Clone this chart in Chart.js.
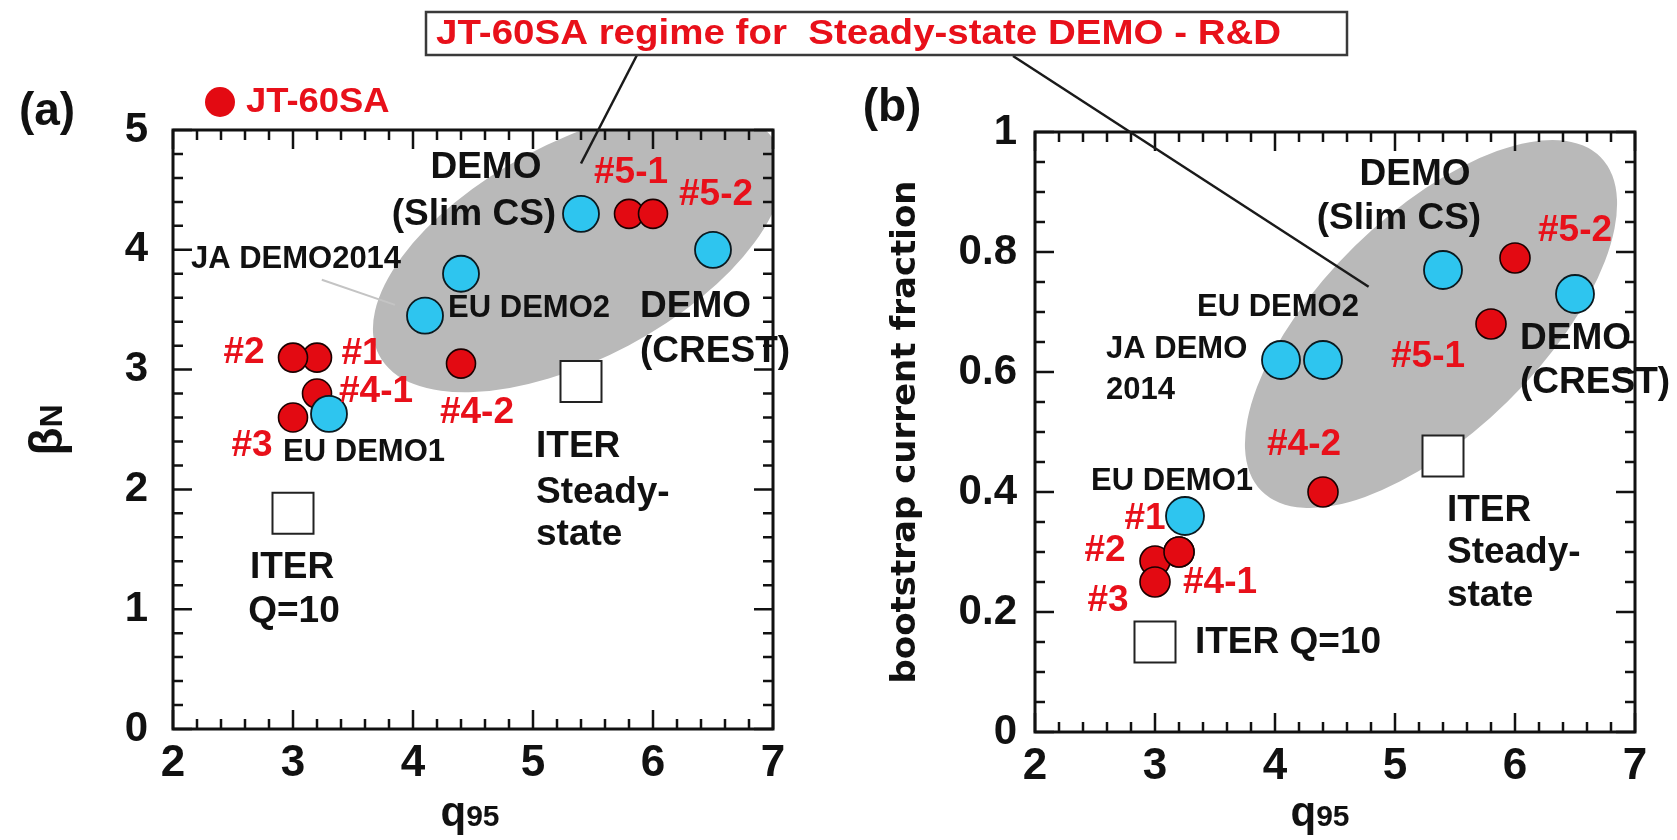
<!DOCTYPE html>
<html><head><meta charset="utf-8">
<script src="https://cdn.jsdelivr.net/npm/chart.js@4.4.1/dist/chart.umd.min.js"></script>
<style>
html,body{margin:0;padding:0;background:#fff;}
#wrap{position:relative;width:1677px;height:840px;background:#fff;}
canvas{position:absolute;left:0;top:0;}
</style></head><body>
<div id="wrap"><canvas id="ca" width="1677" height="840"></canvas><canvas id="cb" width="1677" height="840"></canvas></div>
<script>
// ---------------- data ----------------
const xTickValues = [2, 3, 4, 5, 6, 7];
const yTickValuesA = [0, 1, 2, 3, 4, 5];
const yTickValuesB = [0, 0.2, 0.4, 0.6, 0.8, 1];

// JT-60SA scenarios
const jtNames  = ['#1', '#2', '#3', '#4-1', '#4-2', '#5-1', '#5-2'];
const jtQ95A   = [3.2, 3.0, 3.0, 3.2, 4.4, 5.8, 6.0];
const jtBetaN  = [3.1, 3.1, 2.6, 2.8, 3.05, 4.3, 4.3];
const jtQ95B   = [3.2, 3.0, 3.0, 3.2, 4.4, 5.8, 6.0];
const jtFbs    = [0.30, 0.285, 0.25, 0.30, 0.40, 0.68, 0.79];

// DEMO designs
const demoNames = ['EU DEMO1', 'EU DEMO2', 'JA DEMO2014', 'DEMO (Slim CS)', 'DEMO (CREST)'];
const demoQ95A  = [3.3, 4.4, 4.1, 5.4, 6.5];
const demoBetaN = [2.63, 3.8, 3.45, 4.3, 4.0];
const demoQ95B  = [3.25, 4.4, 4.05, 5.4, 6.5];
const demoFbs   = [0.36, 0.62, 0.62, 0.77, 0.73];

// ITER scenarios
const iterNames = ['ITER Q=10', 'ITER Steady-state'];
const iterQ95   = [3.0, 5.4];
const iterBetaN = [1.8, 2.9];
const iterFbs   = [0.15, 0.46];

// ---------------- annotations (data coordinates) ----------------
const annA = [
  ['DEMO', 4.608, 4.683, 'big'],
  ['(Slim CS)', 4.508, 4.29, 'big'],
  ['#5-1', 5.817, 4.641, 'red'],
  ['#5-2', 6.525, 4.457, 'red'],
  ['JA DEMO2014', 3.025, 3.923, 'small'],
  ['EU DEMO2', 4.967, 3.514, 'small'],
  ['DEMO', 5.892, 3.523, 'big', 'left'],
  ['(CREST)', 5.892, 3.147, 'big', 'left'],
  ['#2', 2.592, 3.139, 'red'],
  ['#1', 3.575, 3.13, 'red'],
  ['#4-1', 3.692, 2.813, 'red'],
  ['#4-2', 4.533, 2.638, 'red'],
  ['#3', 2.658, 2.362, 'red'],
  ['EU DEMO1', 3.592, 2.312, 'small'],
  ['ITER', 5.025, 2.354, 'big', 'left'],
  ['Steady-', 5.025, 1.97, 'big', 'left'],
  ['state', 5.025, 1.619, 'big', 'left'],
  ['ITER', 2.992, 1.344, 'big'],
  ['Q=10', 3.008, 0.977, 'big']
];
const annB = [
  ['DEMO', 5.167, 0.928, 'big'],
  ['(Slim CS)', 5.033, 0.855, 'big'],
  ['#5-2', 6.5, 0.835, 'red'],
  ['EU DEMO2', 4.025, 0.708, 'small'],
  ['JA DEMO', 2.592, 0.637, 'small', 'left'],
  ['2014', 2.592, 0.57, 'small', 'left'],
  ['#5-1', 5.275, 0.625, 'red'],
  ['DEMO', 6.042, 0.655, 'big', 'left'],
  ['(CREST)', 6.042, 0.582, 'big', 'left'],
  ['#4-2', 4.242, 0.478, 'red'],
  ['EU DEMO1', 3.142, 0.417, 'small'],
  ['#1', 2.917, 0.355, 'red'],
  ['#2', 2.583, 0.302, 'red'],
  ['#4-1', 3.542, 0.248, 'red'],
  ['#3', 2.608, 0.218, 'red'],
  ['ITER Q=10', 3.333, 0.148, 'big', 'left'],
  ['ITER', 5.433, 0.368, 'big', 'left'],
  ['Steady-', 5.433, 0.298, 'big', 'left'],
  ['state', 5.433, 0.227, 'big', 'left']
];
// grey "JT-60SA regime" ellipses: centre, end of major axis (data), minor/major ratio
const regionA = {cx: 5.375, cy: 3.998, mx: 7.031, my: 4.879, ratio: 0.48};
const regionB = {cx: 5.30, cy: 0.68, mx: 6.714, my: 0.958, ratio: 0.458};

// ---------------- styles ----------------
const FONT = '"Liberation Sans", Arial, Helvetica, sans-serif';
const RED = '#e8101a';
const RED_FILL = '#e30a12';
const CYAN = '#2ec5ef';
const INK = '#111111';
const GREY = '#b9b9b9';
const STYLE = {
  big:   {size: 37, color: INK},
  small: {size: 31, color: INK},
  red:   {size: 37, color: RED}
};

function drawText(ctx, s, x, y, size, color, align, hs, family, weight) {
  ctx.save();
  ctx.font = (weight || 'bold') + ' ' + size + 'px ' + (family || FONT);
  ctx.fillStyle = color;
  ctx.textBaseline = 'middle';
  ctx.textAlign = align || 'center';
  ctx.translate(x, y);
  ctx.scale(hs || 1, 1);
  ctx.fillText(s, 0, 0);
  ctx.restore();
}

function panelPlugin(spec) {
  return {
    id: 'panel' + spec.id,
    beforeDatasetsDraw(chart) {
      const {ctx, chartArea: ca, scales: {x, y}} = chart;
      const e = spec.region;
      const px = x.getPixelForValue(e.cx), py = y.getPixelForValue(e.cy);
      const qx = x.getPixelForValue(e.mx), qy = y.getPixelForValue(e.my);
      const a = Math.hypot(qx - px, qy - py), ang = Math.atan2(qy - py, qx - px);
      ctx.save();
      ctx.beginPath(); ctx.rect(ca.left, ca.top, ca.right - ca.left, ca.bottom - ca.top); ctx.clip();
      ctx.beginPath();
      ctx.ellipse(px, py, a, a * e.ratio, ang, 0, Math.PI * 2);
      ctx.fillStyle = GREY; ctx.fill();
      ctx.restore();
      if (spec.thinLines) {
        ctx.save();
        spec.thinLines.forEach(l => {
          ctx.strokeStyle = l.color; ctx.lineWidth = l.width;
          ctx.beginPath();
          ctx.moveTo(x.getPixelForValue(l.q0), y.getPixelForValue(l.v0));
          ctx.lineTo(x.getPixelForValue(l.q1), y.getPixelForValue(l.v1));
          ctx.stroke();
        });
        ctx.restore();
      }
    },
    afterDatasetsDraw(chart) {
      const {ctx, scales: {x, y}} = chart;
      spec.ann.forEach(a => {
        const st = STYLE[a[3]];
        drawText(ctx, a[0], x.getPixelForValue(a[1]), y.getPixelForValue(a[2]), st.size, st.color, a[4] || 'center', 1);
      });
    },
    afterDraw(chart) {
      const {ctx, chartArea: ca, scales: {x, y}} = chart;
      ctx.save();
      ctx.strokeStyle = INK; ctx.lineWidth = 2.5;
      const xs = spec.xTicks, ys = spec.yTicks;
      const drawSet = (min, max, minor, per, fn) => {
        const n = Math.round((max - min) / minor);
        for (let i = 0; i <= n; i++) fn(min + i * minor, i % per === 0);
      };
      drawSet(xs[0], xs[xs.length - 1], spec.xMinor, spec.xPer, (v, major) => {
        const p = x.getPixelForValue(v), L = major ? 19 : 10;
        ctx.beginPath();
        ctx.moveTo(p, ca.bottom); ctx.lineTo(p, ca.bottom - L);
        ctx.moveTo(p, ca.top); ctx.lineTo(p, ca.top + L);
        ctx.stroke();
      });
      drawSet(ys[0], ys[ys.length - 1], spec.yMinor, spec.yPer, (v, major) => {
        const p = y.getPixelForValue(v), L = major ? 19 : 10;
        ctx.beginPath();
        ctx.moveTo(ca.left, p); ctx.lineTo(ca.left + L, p);
        ctx.moveTo(ca.right, p); ctx.lineTo(ca.right - L, p);
        ctx.stroke();
      });
      ctx.lineWidth = 3;
      ctx.strokeRect(ca.left, ca.top, ca.right - ca.left, ca.bottom - ca.top);
      ctx.restore();
      spec.extra(chart);
    }
  };
}

function ds(label, xs, ys, style, order) {
  return Object.assign({
    label: label,
    data: xs.map((q, i) => ({x: q, y: ys[i]})),
    order: order
  }, style);
}

function makeChart(id, spec, datasets) {
  const tickFont = {family: FONT, size: 44, weight: 'bold'};
  return new Chart(document.getElementById(id), {
    type: 'scatter',
    data: {datasets: datasets},
    options: {
      responsive: false, animation: false, devicePixelRatio: 1,
      layout: {padding: spec.padding},
      plugins: {legend: {display: false}, tooltip: {enabled: false}},
      scales: {
        x: {
          type: 'linear', min: spec.xTicks[0], max: spec.xTicks[spec.xTicks.length - 1],
          afterBuildTicks: s => { s.ticks = spec.xTicks.map(v => ({value: v})); },
          afterFit: s => { s.height = 100; },
          grid: {display: false, drawTicks: false}, border: {display: false},
          ticks: {font: tickFont, color: INK, padding: 8, maxRotation: 0, autoSkip: false, callback: v => String(v)}
        },
        y: {
          type: 'linear', min: spec.yTicks[0], max: spec.yTicks[spec.yTicks.length - 1],
          afterBuildTicks: s => { s.ticks = spec.yTicks.map(v => ({value: v})); },
          afterFit: s => { s.width = 120; },
          grid: {display: false, drawTicks: false}, border: {display: false},
          ticks: {font: {family: FONT, size: 42, weight: 'bold'}, color: INK, padding: spec.yPad, autoSkip: false, callback: v => String(v)}
        }
      }
    },
    plugins: [panelPlugin(spec)]
  });
}

function drawQ95(ctx, cx, base) {
  ctx.save();
  ctx.fillStyle = INK; ctx.textBaseline = 'alphabetic'; ctx.textAlign = 'left';
  ctx.font = 'bold 42px ' + FONT; const w1 = ctx.measureText('q').width;
  ctx.font = 'bold 30px ' + FONT; const w2 = ctx.measureText('95').width;
  const sx = cx - (w1 + w2) / 2;
  ctx.font = 'bold 42px ' + FONT; ctx.fillText('q', sx, base);
  ctx.font = 'bold 30px ' + FONT; ctx.fillText('95', sx + w1, base);
  ctx.restore();
}

const redStyle = r => ({backgroundColor: RED_FILL, borderColor: '#1a0000', borderWidth: 1.6, pointRadius: r, pointStyle: 'circle'});
const cyanStyle = r => ({backgroundColor: CYAN, borderColor: '#0b1a20', borderWidth: 1.8, pointRadius: r, pointStyle: 'circle'});
const iterStyle = {backgroundColor: '#ffffff', borderColor: '#222222', borderWidth: 2, pointRadius: 29, pointStyle: 'rect'};

// ---------------- panel (a) ----------------
makeChart('ca', {
  id: 'A', ann: annA, region: regionA,
  xTicks: xTickValues, yTicks: yTickValuesA, xMinor: 0.2, xPer: 5, yMinor: 0.2, yPer: 5,
  yPad: 25,
  padding: {left: 53, right: 904, top: 130, bottom: 11},
  thinLines: [{q0: 3.24, v0: 3.75, q1: 3.85, v1: 3.54, color: '#c4c4c4', width: 2}],
  extra(chart) {
    const {ctx, scales: {x, y}} = chart;
    ctx.save();
    ctx.strokeStyle = '#1a1a1a'; ctx.lineWidth = 2.5;
    ctx.beginPath(); ctx.moveTo(637, 55); ctx.lineTo(x.getPixelForValue(5.4), y.getPixelForValue(4.72)); ctx.stroke();
    ctx.beginPath(); ctx.arc(220, 102, 15, 0, Math.PI * 2); ctx.fillStyle = RED_FILL; ctx.fill();
    ctx.restore();
    drawText(ctx, 'JT-60SA', 246, 102, 35, RED, 'left', 1.04);
    drawText(ctx, '(a)', 47, 112, 46, INK, 'center', 1);
    ctx.save();
    ctx.translate(48, 430); ctx.rotate(-Math.PI / 2);
    ctx.fillStyle = INK; ctx.textBaseline = 'alphabetic'; ctx.textAlign = 'left';
    ctx.font = 'bold 46px ' + FONT; const wB = ctx.measureText('β').width;
    ctx.font = 'bold 32px ' + FONT; const wN = ctx.measureText('N').width;
    const sx = -(wB + wN) / 2;
    ctx.font = 'bold 46px ' + FONT; ctx.fillText('β', sx, 14);
    ctx.font = 'bold 32px ' + FONT; ctx.fillText('N', sx + wB, 14);
    ctx.restore();
    drawQ95(ctx, 470, 826);
  }
}, [
  ds('DEMO', demoQ95A, demoBetaN, cyanStyle(18), 0),
  ds('JT-60SA', jtQ95A, jtBetaN, redStyle(14.5), 1),
  ds('ITER', iterQ95, iterBetaN, iterStyle, 2)
]);

// ---------------- panel (b) ----------------
makeChart('cb', {
  id: 'B', ann: annB, region: regionB,
  xTicks: xTickValues, yTicks: yTickValuesB, xMinor: 0.2, xPer: 5, yMinor: 0.05, yPer: 4,
  yPad: 18,
  padding: {left: 915, right: 42, top: 132, bottom: 8},
  extra(chart) {
    const {ctx, scales: {x, y}} = chart;
    ctx.save();
    ctx.strokeStyle = '#1a1a1a'; ctx.lineWidth = 2.5;
    ctx.beginPath(); ctx.moveTo(1013, 56); ctx.lineTo(x.getPixelForValue(4.78), y.getPixelForValue(0.742)); ctx.stroke();
    ctx.fillStyle = '#ffffff'; ctx.fillRect(426, 12, 921, 43);
    ctx.strokeStyle = '#3a3a3a'; ctx.lineWidth = 2.5; ctx.strokeRect(426, 12, 921, 43);
    ctx.restore();
    drawText(ctx, 'JT-60SA regime for  Steady-state DEMO - R&D', 436, 34, 35, RED, 'left', 1.1);
    drawText(ctx, '(b)', 892, 108, 46, INK, 'center', 1);
    ctx.save();
    ctx.translate(906, 432); ctx.rotate(-Math.PI / 2);
    ctx.fillStyle = INK; ctx.textAlign = 'center'; ctx.textBaseline = 'middle';
    ctx.font = 'bold 34px "DejaVu Sans", Verdana, sans-serif';
    ctx.fillText('bootstrap current fraction', 0, 0);
    ctx.restore();
    drawQ95(ctx, 1320, 826);
  }
}, [
  ds('JT-60SA', jtQ95B, jtFbs, redStyle(15), 0),
  ds('DEMO', demoQ95B, demoFbs, cyanStyle(19), 1),
  ds('ITER', iterQ95, iterFbs, iterStyle, 2)
]);
</script>
</body></html>
